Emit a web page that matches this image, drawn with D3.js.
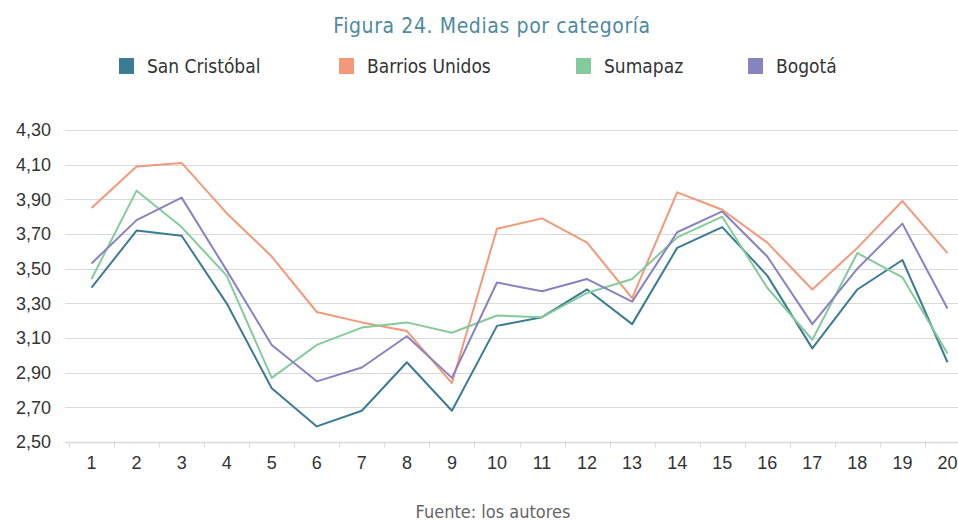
<!DOCTYPE html>
<html>
<head>
<meta charset="utf-8">
<script src="https://cdn.jsdelivr.net/npm/d3@7"></script>
<style>
  body { margin: 0; background: #fff; }
  svg { display: block; font-family: "DejaVu Sans Condensed", "DejaVu Sans", sans-serif; }
</style>
</head>
<body>
<div id="chart"></div>
<script>
// data
const categories = d3.range(1, 21);
const seriesNames = ['San Cristóbal', 'Barrios Unidos', 'Sumapaz', 'Bogotá'];
const seriesColors = ['#3c7b94', '#f4987a', '#84cb9c', '#8882c0'];

const sanCristobal = [3.39, 3.72, 3.69, 3.30, 2.81, 2.59, 2.68, 2.96, 2.68, 3.17,
                      3.22, 3.38, 3.18, 3.62, 3.74, 3.46, 3.04, 3.38, 3.55, 2.96];
const barriosUnidos = [3.85, 4.09, 4.11, 3.82, 3.57, 3.25, 3.19, 3.14, 2.84, 3.73,
                       3.79, 3.65, 3.33, 3.94, 3.84, 3.65, 3.38, 3.62, 3.89, 3.59];
const sumapaz = [3.44, 3.95, 3.74, 3.46, 2.87, 3.06, 3.16, 3.19, 3.13, 3.23,
                 3.22, 3.36, 3.44, 3.68, 3.80, 3.39, 3.09, 3.59, 3.45, 3.01];
const bogota = [3.53, 3.78, 3.91, 3.49, 3.06, 2.85, 2.93, 3.11, 2.87, 3.42,
                3.37, 3.44, 3.31, 3.71, 3.83, 3.57, 3.18, 3.50, 3.76, 3.27];

const yTicks = [2.5, 2.7, 2.9, 3.1, 3.3, 3.5, 3.7, 3.9, 4.1, 4.3];

const title = 'Figura 24. Medias por categoría';
const source = 'Fuente: los autores';

// layout
const width = 958, height = 521;
const legendX = [119, 339, 576, 748];

const svg = d3.select('#chart').append('svg')
    .attr('width', width)
    .attr('height', height);

// the plot runs past the right edge, as in the picture
let x = d3.scaleBand()
    .domain(categories)
    .range([69, 970])
    .padding(0);

let y = d3.scaleLinear()
    .domain([2.5, 4.3])
    .range([442, 130]);

const fmt = (v) => v.toFixed(2).replace('.', ',');

// gridlines
svg.append('g')
    .attr('class', 'grid')
    .selectAll('line')
    .data(yTicks.slice(1))
    .enter()
    .append('line')
    .attr('x1', 65)
    .attr('x2', width)
    .attr('y1', (d) => Math.round(y(d)) + 0.5)
    .attr('y2', (d) => Math.round(y(d)) + 0.5)
    .attr('stroke', '#d9d9d9')
    .attr('stroke-width', 1);

// y axis labels
let yAxis = d3.axisLeft(y)
    .tickValues(yTicks)
    .tickFormat(fmt)
    .tickSize(0)
    .tickPadding(0);

svg.append('g')
    .attr('transform', 'translate(51,0)')
    .call(yAxis)
    .call((g) => g.select('.domain').remove())
    .call((g) => g.selectAll('text')
        .attr('font-size', 18)
        .attr('font-family', null)
        .attr('fill', '#333'));

// x axis
let xAxis = d3.axisBottom(x)
    .tickSize(0)
    .tickPadding(14);

let gx = svg.append('g')
    .attr('transform', `translate(0,${Math.round(y(2.5)) + 0.5})`)
    .call(xAxis);

gx.select('.domain').remove();
gx.append('line')
    .attr('x1', 65)
    .attr('x2', width)
    .attr('stroke', '#d9d9d9')
    .attr('stroke-width', 1.5);
gx.selectAll('.sep')
    .data(categories)
    .enter()
    .append('line')
    .attr('class', 'sep')
    .attr('x1', (d) => Math.round(x(d)) + 0.5)
    .attr('x2', (d) => Math.round(x(d)) + 0.5)
    .attr('y1', 0)
    .attr('y2', 5)
    .attr('stroke', '#d9d9d9');
gx.selectAll('text')
    .attr('font-size', 18)
    .attr('font-family', null)
    .attr('fill', '#333');

// lines
const seriesData = [sanCristobal, barriosUnidos, sumapaz, bogota];

let line = d3.line()
    .x((d, i) => x(categories[i]) + x.bandwidth() / 2)
    .y((d) => y(d));

svg.append('g')
    .selectAll('path')
    .data(seriesData)
    .enter()
    .append('path')
    .attr('d', line)
    .attr('fill', 'none')
    .attr('stroke', (d, i) => seriesColors[i])
    .attr('stroke-width', 2)
    .attr('stroke-linejoin', 'round');

// title
svg.append('text')
    .attr('x', 492)
    .attr('y', 33)
    .attr('text-anchor', 'middle')
    .attr('font-size', 21)
    .attr('fill', '#4f8aa0')
    .attr('letter-spacing', 0.6)
    .text(title);

// legend
let legend = svg.append('g')
    .selectAll('g')
    .data(seriesNames)
    .enter()
    .append('g')
    .attr('transform', (d, i) => `translate(${legendX[i]},58)`);

legend.append('rect')
    .attr('width', 15)
    .attr('height', 16)
    .attr('fill', (d, i) => seriesColors[i]);

legend.append('text')
    .attr('x', 28)
    .attr('y', 15)
    .attr('font-size', 19)
    .attr('fill', '#333')
    .text((d) => d);

// source
svg.append('text')
    .attr('x', 493)
    .attr('y', 518)
    .attr('text-anchor', 'middle')
    .attr('font-size', 18)
    .attr('fill', '#666')
    .text(source);
</script>
</body>
</html>
